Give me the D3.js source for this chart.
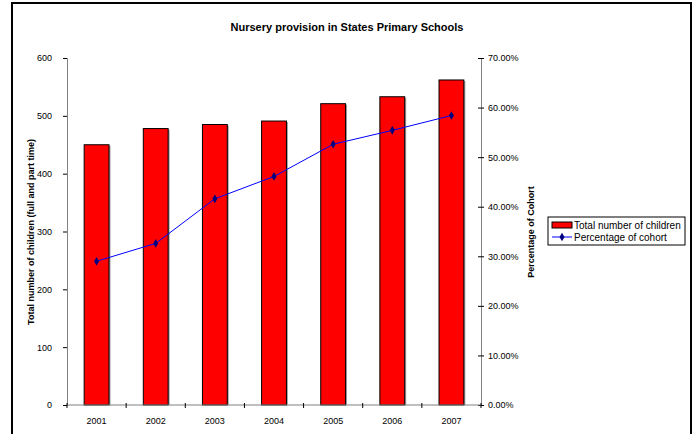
<!doctype html>
<html>
<head>
<meta charset="utf-8">
<script src="https://d3js.org/d3.v7.min.js"></script>
<style>
  body { margin: 0; background: #fff; }
  text { font-family: Arial, "Liberation Sans", sans-serif; }
</style>
</head>
<body>
<svg id="chart" width="693" height="434"></svg>
<script>
var years = ['2001', '2002', '2003', '2004', '2005', '2006', '2007'];
var children = [450, 478, 485, 491, 521, 533, 562];
var cohortPct = [0.290, 0.326, 0.416, 0.461, 0.526, 0.554, 0.584];
var leftTicks = [0, 100, 200, 300, 400, 500, 600];
var rightTicks = [0, 0.1, 0.2, 0.3, 0.4, 0.5, 0.6, 0.7];

var svg = d3.select('#chart');

// outer frame
svg.append('rect')
    .attr('x', 12).attr('y', 3)
    .attr('width', 679).attr('height', 440)
    .attr('fill', '#fff').attr('stroke', '#000').attr('stroke-width', 2);

var PLOT_L = 67, PLOT_R = 481, PLOT_T = 58, PLOT_B = 405;

var x = d3.scaleBand().domain(years).range([PLOT_L, PLOT_R]).paddingInner(0.58).paddingOuter(0.29);
var bounds = d3.scaleBand().domain(years).range([PLOT_L, PLOT_R]);
var yL = d3.scaleLinear().domain([0, 600]).range([PLOT_B, PLOT_T]);
var yR = d3.scaleLinear().domain([0, 0.7]).range([PLOT_B, PLOT_T]);

svg.append('text')
    .attr('x', 347).attr('y', 31)
    .attr('text-anchor', 'middle')
    .attr('font-size', 11).attr('font-weight', 'bold')
    .text('Nursery provision in States Primary Schools');

// bars (with faint grey shadow on the right like the original)
svg.selectAll('rect.shadow')
    .data(years)
    .enter()
    .append('rect')
    .attr('class', 'shadow')
    .attr('x', d => x(d) + 1.5)
    .attr('y', (d, i) => yL(children[i]) + 1)
    .attr('width', x.bandwidth())
    .attr('height', (d, i) => PLOT_B - yL(children[i]) - 1)
    .attr('fill', '#a0a0a0');
svg.selectAll('rect.bar')
    .data(years)
    .enter()
    .append('rect')
    .attr('class', 'bar')
    .attr('x', d => x(d))
    .attr('y', (d, i) => yL(children[i]))
    .attr('width', x.bandwidth())
    .attr('height', (d, i) => PLOT_B - yL(children[i]))
    .attr('fill', '#ff0000')
    .attr('stroke', '#000')
    .attr('stroke-width', 1);

// left axis
var gL = svg.append('g').attr('transform', 'translate(' + PLOT_L + ',0)')
    .call(d3.axisLeft(yL).tickValues(leftTicks).tickSize(4).tickPadding(11).tickFormat(d3.format('d')));
gL.select('.domain').attr('stroke', '#808080');
gL.selectAll('.tick line').attr('stroke', '#000');
gL.selectAll('.tick text').attr('font-size', 9).attr('font-family', 'Arial, Liberation Sans, sans-serif');

// right axis
var gR = svg.append('g').attr('transform', 'translate(' + PLOT_R + ',0)')
    .call(d3.axisRight(yR).tickValues(rightTicks).tickSize(3).tickPadding(4).tickFormat(d3.format('.2%')));
gR.select('.domain').attr('stroke', '#808080');
gR.selectAll('.tick line').attr('stroke', '#000').attr('x1', -3);
gR.selectAll('.tick text').attr('font-size', 9).attr('font-family', 'Arial, Liberation Sans, sans-serif');

// bottom axis
var gB = svg.append('g').attr('transform', 'translate(0,' + PLOT_B + ')');
gB.append('line').attr('x1', PLOT_L).attr('x2', PLOT_R).attr('stroke', '#808080');
gB.selectAll('line.tk')
    .data(years.concat(['end']))
    .enter()
    .append('line')
    .attr('class', 'tk')
    .attr('x1', (d, i) => i < years.length ? bounds(d) : PLOT_R)
    .attr('x2', (d, i) => i < years.length ? bounds(d) : PLOT_R)
    .attr('y1', -2).attr('y2', 3)
    .attr('stroke', '#000');
gB.selectAll('text')
    .data(years)
    .enter()
    .append('text')
    .attr('x', d => bounds(d) + bounds.bandwidth() / 2)
    .attr('y', 19)
    .attr('text-anchor', 'middle')
    .attr('font-size', 9)
    .text(d => d);

// axis titles
svg.append('text')
    .attr('transform', 'translate(34,232) rotate(-90)')
    .attr('text-anchor', 'middle')
    .attr('font-size', 9).attr('font-weight', 'bold')
    .text('Total number of children (full and part time)');
svg.append('text')
    .attr('transform', 'translate(534,232) rotate(-90)')
    .attr('text-anchor', 'middle')
    .attr('font-size', 9).attr('font-weight', 'bold')
    .text('Percentage of Cohort');

// line
var line = d3.line()
    .x((d, i) => x(years[i]) + x.bandwidth() / 2)
    .y(d => yR(d));
svg.append('path')
    .datum(cohortPct)
    .attr('d', line)
    .attr('fill', 'none')
    .attr('stroke', '#0000ff')
    .attr('stroke-width', 1);
svg.selectAll('path.pt')
    .data(cohortPct)
    .enter()
    .append('path')
    .attr('class', 'pt')
    .attr('d', d3.symbol().type(d3.symbolDiamond).size(22))
    .attr('transform', (d, i) => 'translate(' + (x(years[i]) + x.bandwidth() / 2) + ',' + yR(d) + ')')
    .attr('fill', '#000080');

// legend
var lg = svg.append('g').attr('transform', 'translate(548,217)');
lg.append('rect').attr('width', 137).attr('height', 28)
    .attr('fill', '#fff').attr('stroke', '#000').attr('stroke-width', 1);
lg.append('rect').attr('x', 4).attr('y', 5).attr('width', 20).attr('height', 6)
    .attr('fill', '#ff0000').attr('stroke', '#000');
lg.append('text').attr('x', 26).attr('y', 12).attr('font-size', 10).text('Total number of children');
lg.append('line').attr('x1', 4).attr('x2', 24).attr('y1', 20).attr('y2', 20).attr('stroke', '#0000ff');
lg.append('path').attr('d', d3.symbol().type(d3.symbolDiamond).size(22))
    .attr('transform', 'translate(14,20)').attr('fill', '#000080');
lg.append('text').attr('x', 26).attr('y', 24).attr('font-size', 10).text('Percentage of cohort');
</script>
</body>
</html>
